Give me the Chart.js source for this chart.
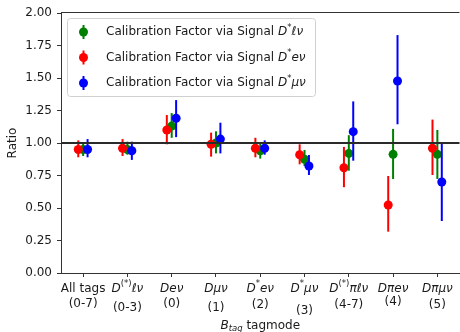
<!DOCTYPE html>
<html><head><meta charset="utf-8">
<script src="https://cdn.jsdelivr.net/npm/chart.js@4.4.1/dist/chart.umd.min.js"></script>
<style>html,body{margin:0;padding:0;background:#fff;overflow:hidden;width:460px;height:332px}canvas{display:block}</style>
</head><body><canvas id="c" width="464" height="332"></canvas>
<script>
// ---- data ----
const categories = ["All tags (0-7)", "D(*)lnu (0-3)", "Denu (0)", "Dmunu (1)", "D*enu (2)", "D*munu (3)", "D(*)pilnu (4-7)", "Dpienu (4)", "Dpimunu (5)"];
const seriesNames = ["Calibration Factor via Signal D*ℓν", "Calibration Factor via Signal D*eν", "Calibration Factor via Signal D*μν"];
const greenValues = [0.95, 0.95, 1.13, 1.00, 0.94, 0.875, 0.92, 0.913, 0.913];
const greenLower  = [0.90, 0.91, 1.04, 0.92, 0.88, 0.823, 0.787, 0.723, 0.723];
const greenUpper  = [1.00, 1.01, 1.23, 1.09, 1.00, 0.946, 1.06, 1.108, 1.10];
const redValues   = [0.95, 0.96, 1.10, 0.99, 0.96, 0.91, 0.81, 0.523, 0.96];
const redLower    = [0.89, 0.90, 0.99, 0.895, 0.89, 0.836, 0.66, 0.318, 0.754];
const redUpper    = [1.02, 1.03, 1.215, 1.08, 1.04, 0.99, 0.97, 0.746, 1.18];
const blueValues  = [0.95, 0.94, 1.19, 1.03, 0.96, 0.823, 1.087, 1.477, 0.70];
const blueLower   = [0.89, 0.87, 1.045, 0.92, 0.91, 0.754, 0.864, 1.144, 0.40];
const blueUpper   = [1.03, 1.01, 1.33, 1.156, 1.02, 0.908, 1.32, 1.83, 1.00];
const yTickValues = [0, 0.25, 0.5, 0.75, 1.0, 1.25, 1.5, 1.75, 2.0];

// ---- rich text (mathtext-like) label parts ----
const FONT = '"DejaVu Sans", sans-serif';
const xLabelLine1 = [
  [["All tags","n"]],
  [["D","i"],["(*)","sup"],["ℓν","i"]],
  [["Deν","i"]],
  [["Dμν","i"]],
  [["D","i"],["*","sup"],["eν","i"]],
  [["D","i"],["*","sup"],["μν","i"]],
  [["D","i"],["(*)","sup"],["πℓν","i"]],
  [["Dπeν","i"]],
  [["Dπμν","i"]]
];
const xLabelLine2 = ["(0-7)","(0-3)","(0)","(1)","(2)","(3)","(4-7)","(4)","(5)"];
const line2Y = [303.5, 307.5, 303.5, 307.5, 304.5, 310.5, 305, 302, 305];
const legendParts = [
  [["Calibration Factor via Signal ","n"],["D","i"],["*","sup"],["ℓν","i"]],
  [["Calibration Factor via Signal ","n"],["D","i"],["*","sup"],["eν","i"]],
  [["Calibration Factor via Signal ","n"],["D","i"],["*","sup"],["μν","i"]]
];
const colors = ["#008000", "#ff0000", "#0000ff"];
const offsets = [0, -0.11, 0.1];

function fontOf(s){
  if (s === 'n') return `12px ${FONT}`;
  if (s === 'i') return `italic 12px ${FONT}`;
  if (s === 'sup') return `8.5px ${FONT}`;
  if (s === 'sub') return `italic 8.5px ${FONT}`;
}
function dyOf(s){ return s === 'sup' ? -4.5 : (s === 'sub' ? 3 : 0); }
function drawRich(ctx, segs, x, y, align){
  let total = 0; const ws = [];
  segs.forEach(([t,s]) => { ctx.font = fontOf(s); const w = ctx.measureText(t).width; ws.push(w); total += w; });
  let cx = align === 'center' ? x - total/2 : x;
  ctx.textBaseline = 'middle'; ctx.textAlign = 'left';
  segs.forEach(([t,s], i) => { ctx.font = fontOf(s); ctx.fillText(t, cx, y + dyOf(s)); cx += ws[i]; });
}

function makeData(vals, lo, hi, off){
  return vals.map((v,i) => ({x: i + off, y: v, lo: lo[i], hi: hi[i]}));
}

const datasets = [
  {label: seriesNames[0], data: makeData(greenValues, greenLower, greenUpper, offsets[0]), backgroundColor: colors[0], order: 3},
  {label: seriesNames[1], data: makeData(redValues, redLower, redUpper, offsets[1]), backgroundColor: colors[1], order: 2},
  {label: seriesNames[2], data: makeData(blueValues, blueLower, blueUpper, offsets[2]), backgroundColor: colors[2], order: 1}
].map(d => Object.assign(d, {pointRadius: 4.5, pointHoverRadius: 4.5, borderWidth: 0, borderColor: d.backgroundColor, showLine: false}));

const decorPlugin = {
  id: 'decor',
  beforeDatasetDraw(chart, args){
    const ds = chart.data.datasets[args.index];
    const xs = chart.scales.x, ys = chart.scales.y, ctx = chart.ctx;
    ctx.save(); ctx.strokeStyle = ds.backgroundColor; ctx.lineWidth = 2;
    ds.data.forEach(p => {
      const px = xs.getPixelForValue(p.x);
      ctx.beginPath(); ctx.moveTo(px, ys.getPixelForValue(p.lo)); ctx.lineTo(px, ys.getPixelForValue(p.hi)); ctx.stroke();
    });
    ctx.restore();
  },
  afterDatasetsDraw(chart){
    const ctx = chart.ctx, a = chart.chartArea, ys = chart.scales.y;
    const y1 = ys.getPixelForValue(1.0);
    ctx.save();
    ctx.strokeStyle = '#2a2a2a'; ctx.lineWidth = 2;
    ctx.beginPath(); ctx.moveTo(a.left, y1); ctx.lineTo(a.right, y1); ctx.stroke();
    ctx.restore();
  },
  afterDraw(chart){
    const ctx = chart.ctx, a = chart.chartArea, xs = chart.scales.x;
    ctx.save();
    // top spine
    ctx.strokeStyle = '#333'; ctx.lineWidth = 1;
    ctx.beginPath(); ctx.moveTo(a.left, a.top - 0.5); ctx.lineTo(a.right, a.top - 0.5); ctx.stroke();
    // x tick labels
    ctx.fillStyle = '#1a1a1a';
    categories.forEach((c, i) => {
      const px = xs.getPixelForValue(i);
      drawRich(ctx, xLabelLine1[i], px, 288.5, 'center');
      drawRich(ctx, [[xLabelLine2[i], 'n']], px, line2Y[i], 'center');
    });
    // x title
    drawRich(ctx, [["B","i"],["tag","sub"],[" tagmode","n"]], (a.left + a.right)/2, 325.5, 'center');
    // legend
    const lx = 67, ly = 18.5, lw = 248, lh = 78;
    ctx.fillStyle = 'rgba(255,255,255,0.85)'; ctx.strokeStyle = '#d0d0d0'; ctx.lineWidth = 1;
    ctx.beginPath(); ctx.roundRect(lx + 0.5, ly, lw, lh, 3); ctx.fill(); ctx.stroke();
    const rows = [32, 57.5, 83];
    rows.forEach((ry, k) => {
      ctx.strokeStyle = colors[k]; ctx.lineWidth = 2;
      ctx.beginPath(); ctx.moveTo(83.5, ry - 7); ctx.lineTo(83.5, ry + 7); ctx.stroke();
      ctx.fillStyle = colors[k];
      ctx.beginPath(); ctx.arc(83.5, ry, 4.5, 0, Math.PI*2); ctx.fill();
      ctx.fillStyle = '#1a1a1a';
      drawRich(ctx, legendParts[k], 106, ry, 'left');
    });
    ctx.restore();
  }
};

new Chart(document.getElementById('c'), {
  type: 'scatter',
  data: {datasets},
  plugins: [decorPlugin],
  options: {
    responsive: false, animation: false, devicePixelRatio: 1,
    layout: {padding: {top: 13, right: 1.6, left: 0, bottom: 0}},
    plugins: {legend: {display: false}, tooltip: {enabled: false}},
    scales: {
      x: {
        type: 'linear', min: -0.5, max: 8.5,
        afterBuildTicks: s => { s.ticks = categories.map((c, i) => ({value: i})); },
        afterFit: s => { s.height = 59; },
        ticks: {callback: () => '', autoSkip: false, maxRotation: 0},
        grid: {drawOnChartArea: false, drawTicks: true, tickLength: 4, color: '#333'},
        border: {display: true, color: '#333', width: 1}
      },
      y: {
        min: 0, max: 2,
        afterBuildTicks: s => { s.ticks = yTickValues.map(v => ({value: v})); },
        afterFit: s => { s.width = 61; },
        ticks: {callback: v => Number(v).toFixed(2), color: '#1a1a1a', font: {family: FONT, size: 12}, padding: 5},
        grid: {drawOnChartArea: false, drawTicks: true, tickLength: 4, color: '#333'},
        border: {display: true, color: '#333', width: 1},
        title: {display: true, text: 'Ratio', color: '#1a1a1a', font: {family: FONT, size: 12}, padding: {top: 6, bottom: 0}}
      }
    }
  }
});
</script>
</body></html>
